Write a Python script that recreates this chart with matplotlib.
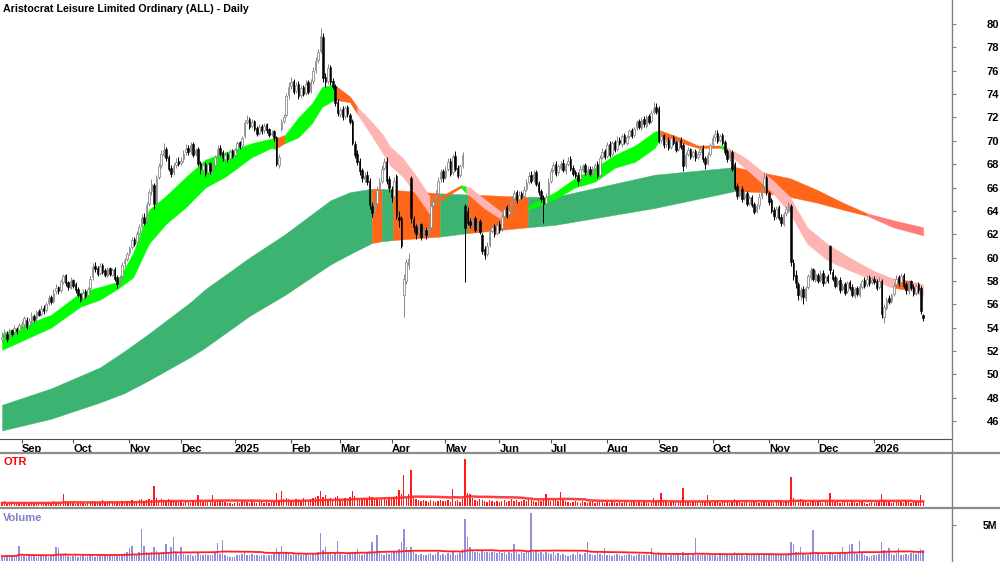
import numpy as np
import pandas as pd
import matplotlib
matplotlib.use("Agg")
import matplotlib.pyplot as plt
from matplotlib.lines import Line2D

plt.rcParams["font.family"] = ["Liberation Sans", "DejaVu Sans"]

TITLE = "Aristocrat Leisure Limited Ordinary (ALL) - Daily"
START = "2024-08-21"  # first trading day shown

# ---- daily OHLC (one row per month) ----
opens = [
    53.0, 53.3, 53.5, 53.1, 53.8, 53.6, 53.9, 53.8,
    54.1, 54.3, 54.7, 54.2, 54.5, 55.0, 54.8, 55.4, 55.2, 55.7, 55.5, 56.1, 56.6, 56.3, 57.1, 57.5, 57.2, 57.9, 58.5, 57.9, 57.4,
    58.1, 57.7, 57.3, 56.9, 56.5, 57.1, 56.8, 57.4, 58.3, 59.3, 59.1, 58.7, 59.4, 58.9, 58.4, 59.1, 58.5, 59.0, 58.3, 57.8, 58.4, 59.5, 59.9,
    60.4, 60.9, 61.6, 61.3, 62.1, 62.7, 63.5, 63.1, 64.6, 65.7, 66.2, 64.7, 66.9, 67.9, 68.8, 69.3, 68.6, 67.7, 67.3, 67.9, 68.3,
    68.1, 68.4, 69.0, 69.4, 69.1, 69.7, 68.9, 69.3, 68.1, 67.5, 68.0, 67.3, 68.1, 67.5, 67.9, 68.7, 69.4, 69.0, 68.4, 68.9, 68.5, 69.1,
    68.8, 69.3, 69.9, 69.6, 70.4, 71.6, 71.9, 71.3, 71.7, 71.1, 70.7, 71.3, 70.9, 71.4, 71.0, 70.6, 70.8, 70.3, 67.9, 71.0, 71.7, 72.2, 73.9,
    74.7, 75.1, 74.3, 74.9, 73.9, 74.6, 74.1, 75.0, 74.3, 75.1, 76.1, 76.9, 77.7, 78.9, 75.5, 75.1, 76.3, 75.1, 74.7, 73.3,
    72.3, 72.7, 72.1, 72.9, 72.2, 71.7, 69.7, 68.9, 68.3, 67.5, 66.7, 67.1, 66.6, 64.4, 63.9, 64.7, 65.9, 66.6, 67.7, 68.3, 66.7,
    65.9, 65.3, 67.0, 63.5, 63.4, 56.8, 58.0, 59.4, 66.8, 63.3, 62.7, 62.1, 62.9, 61.9, 62.4, 62.0, 62.6, 64.5, 64.9, 65.5, 66.7, 67.4,
    66.9, 67.6, 68.3, 67.3, 68.7, 67.7, 67.1, 67.9, 64.4, 64.0, 63.1, 62.9, 63.4, 62.5, 63.1, 61.9, 60.7, 60.3, 61.1, 62.3, 62.7, 62.1,
    62.9, 62.5, 63.6, 64.3, 63.7, 64.1, 65.1, 65.6, 65.0, 65.5, 65.3, 65.9, 66.5, 67.1, 66.7, 67.3, 66.4, 65.7, 65.1, 64.7, 65.3,
    66.6, 67.5, 68.0, 67.3, 67.7, 68.1, 67.4, 68.0, 68.4, 67.7, 67.3, 67.1, 66.7, 67.5, 67.9, 67.2, 67.6, 67.1, 67.7, 68.0, 67.1, 68.6, 69.1,
    68.7, 69.7, 68.9, 69.9, 69.3, 70.1, 69.7, 70.5, 69.8, 70.4, 70.9, 70.5, 71.1, 71.7, 71.1, 71.9, 71.3, 72.1, 71.7, 72.5, 72.9,
    72.8, 70.1, 70.5, 69.7, 70.1, 69.5, 70.3, 69.9, 69.3, 70.1, 69.6, 67.9, 68.9, 69.3, 68.7, 69.1, 68.6, 69.0, 69.4, 68.5, 68.1, 68.9,
    69.7, 70.3, 70.7, 70.1, 70.5, 69.9, 69.1, 68.5, 69.0, 68.0, 66.1, 65.4, 65.9, 65.1, 65.5, 64.7, 65.2, 64.6, 64.0, 64.5, 65.3, 66.1, 66.9,
    65.5, 64.9, 64.1, 63.5, 64.3, 63.5, 62.9, 63.8, 64.1, 64.4, 59.5, 58.5, 57.7, 56.7, 57.3, 56.5, 57.5, 58.3, 59.0, 58.1,
    58.5, 58.1, 58.7, 57.9, 58.4, 61.0, 58.8, 58.3, 57.7, 58.1, 57.3, 57.7, 57.1, 57.9, 57.5, 56.7, 57.4, 56.8, 57.5, 58.1, 57.7, 58.3, 57.9,
    58.2, 58.0, 57.5, 58.0, 54.9, 55.7, 56.5, 56.3, 56.9, 57.7, 58.3, 57.9, 58.5, 57.7, 57.1, 58.0, 57.5, 57.0, 57.7, 57.4, 55.1,
]
highs = [
    53.6, 53.9, 53.7, 54.0, 53.9, 54.2, 54.1, 54.4,
    54.6, 55.0, 54.9, 54.8, 55.3, 55.2, 55.5, 55.6, 55.9, 55.9, 56.2, 56.8, 56.8, 57.3, 57.7, 57.6, 58.2, 58.6, 58.6, 58.0, 58.3,
    58.2, 57.9, 57.5, 57.0, 57.3, 57.3, 57.5, 58.4, 59.5, 59.6, 59.3, 59.5, 59.5, 59.1, 59.2, 59.2, 59.1, 59.2, 58.5, 58.5, 59.6, 60.0, 60.5,
    61.0, 61.8, 61.8, 62.3, 62.9, 63.7, 63.8, 64.8, 65.9, 66.7, 66.4, 67.1, 68.1, 69.2, 69.8, 69.5, 68.8, 67.9, 68.1, 68.5, 68.6,
    68.6, 69.2, 69.7, 69.6, 69.9, 69.9, 69.4, 69.5, 68.3, 68.1, 68.2, 68.3, 68.2, 68.0, 68.8, 69.6, 69.6, 69.2, 69.0, 69.0, 69.3, 69.3,
    69.4, 70.0, 70.0, 70.4, 71.8, 72.2, 72.0, 71.9, 71.8, 71.3, 71.4, 71.4, 71.5, 71.5, 71.1, 70.9, 70.9, 70.4, 68.9, 71.9, 72.3, 74.1, 75.0,
    75.5, 75.3, 75.0, 75.1, 74.8, 74.8, 75.2, 75.2, 75.3, 76.3, 77.2, 77.9, 79.7, 79.2, 75.8, 76.6, 76.5, 75.4, 74.9, 73.6,
    72.9, 73.0, 73.0, 73.1, 72.4, 71.9, 70.0, 69.2, 68.5, 67.7, 67.3, 67.4, 66.8, 64.8, 64.9, 66.1, 66.8, 67.9, 68.5, 68.6, 67.0,
    66.1, 66.9, 67.2, 64.0, 63.6, 58.6, 59.9, 60.4, 67.0, 63.6, 62.9, 63.1, 63.0, 62.6, 62.6, 62.8, 64.7, 65.1, 65.8, 66.9, 67.6, 67.6,
    67.8, 68.5, 68.5, 68.9, 69.1, 67.9, 68.0, 69.0, 64.6, 64.3, 63.4, 63.6, 63.6, 63.3, 63.3, 62.1, 61.0, 61.3, 62.5, 62.9, 62.9, 63.1,
    63.1, 63.8, 64.5, 64.5, 64.3, 65.3, 65.8, 65.8, 65.7, 65.7, 66.1, 66.7, 67.3, 67.4, 67.5, 67.5, 66.6, 65.9, 65.4, 65.5, 66.8,
    67.7, 68.2, 68.3, 68.0, 68.3, 68.4, 68.1, 68.6, 68.7, 67.9, 67.5, 67.3, 67.9, 68.0, 68.1, 67.8, 67.8, 67.8, 68.1, 68.3, 68.8, 69.4, 69.3,
    69.9, 70.0, 70.0, 70.1, 70.4, 70.3, 70.6, 70.7, 70.5, 71.0, 71.1, 71.2, 71.8, 71.9, 72.0, 72.1, 72.2, 72.3, 72.6, 73.3, 73.2,
    73.0, 70.7, 70.6, 70.2, 70.3, 70.4, 70.5, 70.0, 70.2, 70.3, 69.8, 69.0, 69.5, 69.4, 69.2, 69.3, 69.1, 69.5, 69.6, 68.7, 69.0, 69.8,
    70.5, 70.9, 70.9, 70.6, 70.7, 70.1, 69.3, 69.2, 69.2, 68.2, 66.4, 66.1, 66.1, 65.7, 65.7, 65.4, 65.4, 64.8, 64.6, 65.5, 66.3, 67.3, 67.1,
    65.7, 65.1, 64.3, 64.4, 64.5, 63.7, 63.9, 64.4, 64.8, 64.6, 59.9, 58.9, 57.9, 57.5, 57.6, 57.6, 58.6, 59.2, 59.1, 58.9,
    58.7, 58.9, 58.9, 58.5, 58.6, 61.1, 59.0, 58.5, 58.3, 58.3, 57.8, 57.9, 58.0, 58.1, 57.7, 57.5, 57.6, 57.8, 58.2, 58.3, 58.5, 58.5, 58.3,
    58.4, 58.2, 58.3, 58.2, 56.0, 56.6, 56.8, 57.0, 57.8, 58.5, 58.5, 58.7, 58.7, 57.9, 58.1, 58.1, 57.7, 57.8, 57.9, 57.6, 55.2,
]
lows = [
    52.8, 53.1, 52.8, 53.0, 53.3, 53.4, 53.5, 53.6,
    53.9, 54.1, 53.9, 54.0, 54.3, 54.5, 54.6, 55.0, 55.0, 55.2, 55.3, 55.9, 56.0, 56.1, 56.9, 56.9, 57.0, 57.7, 57.6, 57.2, 57.3,
    57.4, 57.0, 56.6, 56.2, 56.3, 56.5, 56.6, 57.2, 58.1, 58.8, 58.4, 58.5, 58.6, 58.3, 58.3, 58.4, 58.4, 58.0, 57.4, 57.6, 58.2, 59.2, 59.7,
    60.2, 60.7, 61.0, 61.1, 61.9, 62.5, 62.8, 62.9, 64.4, 65.4, 64.2, 64.5, 66.7, 67.7, 68.6, 68.3, 67.4, 66.9, 67.1, 67.7, 67.8,
    67.9, 68.2, 68.8, 68.8, 68.9, 68.6, 68.7, 67.8, 67.2, 67.3, 67.0, 67.1, 67.2, 67.3, 67.7, 68.5, 68.7, 68.3, 68.2, 68.2, 68.3, 68.5,
    68.6, 69.1, 69.3, 69.4, 70.2, 71.4, 71.0, 71.1, 70.8, 70.4, 70.5, 70.6, 70.7, 70.7, 70.3, 70.4, 70.0, 67.8, 67.7, 70.8, 71.5, 72.0, 73.6,
    74.4, 74.0, 74.1, 73.6, 73.7, 73.8, 73.9, 74.0, 74.1, 74.9, 75.8, 76.7, 77.5, 75.0, 74.6, 74.9, 74.8, 74.4, 73.0, 72.1,
    72.0, 71.8, 71.9, 72.0, 71.4, 69.6, 68.5, 67.9, 67.1, 66.5, 66.5, 66.2, 64.2, 63.5, 63.6, 64.5, 65.7, 66.4, 67.5, 66.3, 65.6,
    64.8, 65.0, 63.3, 62.6, 60.8, 54.9, 57.7, 59.0, 63.0, 62.2, 61.6, 61.9, 61.5, 61.7, 61.6, 61.8, 62.4, 64.2, 64.6, 65.3, 66.5, 66.5,
    66.7, 67.4, 67.0, 67.1, 67.4, 66.8, 66.9, 67.7, 57.9, 62.8, 62.5, 62.6, 62.2, 62.3, 62.0, 60.3, 59.9, 60.1, 60.9, 62.1, 61.8, 61.9,
    62.1, 62.3, 63.4, 63.4, 63.4, 63.9, 64.9, 64.7, 64.8, 65.0, 65.1, 65.7, 66.3, 66.4, 66.5, 66.1, 65.4, 64.8, 63.0, 64.5, 65.1,
    66.4, 67.3, 67.0, 67.1, 67.5, 67.3, 67.2, 67.8, 67.4, 67.0, 66.8, 66.2, 66.5, 67.3, 67.1, 67.0, 67.0, 67.0, 67.5, 66.8, 66.9, 68.4, 68.4,
    68.5, 68.6, 68.7, 69.0, 69.1, 69.6, 69.5, 69.7, 69.6, 70.2, 70.2, 70.3, 70.9, 71.0, 70.9, 71.2, 71.1, 71.4, 71.5, 72.3, 72.3,
    69.8, 69.8, 69.4, 69.5, 69.2, 69.3, 69.6, 69.0, 69.1, 69.3, 67.4, 67.7, 68.7, 68.4, 68.5, 68.3, 68.4, 68.8, 68.2, 67.6, 67.9, 68.7,
    69.5, 70.0, 69.8, 69.9, 69.6, 68.8, 68.2, 68.3, 67.4, 65.8, 65.0, 65.2, 64.8, 64.9, 64.4, 64.5, 64.3, 63.7, 63.8, 64.2, 65.0, 65.9, 65.4,
    64.5, 63.8, 63.2, 63.3, 63.2, 62.7, 62.7, 63.6, 63.9, 59.3, 58.1, 57.4, 56.4, 56.4, 56.0, 56.3, 57.3, 58.1, 58.0, 57.9,
    57.8, 57.9, 57.6, 57.7, 57.8, 58.6, 58.0, 57.4, 57.5, 57.0, 57.1, 56.8, 57.0, 57.2, 56.6, 56.5, 56.7, 56.6, 57.3, 57.4, 57.5, 57.6, 57.7,
    57.7, 57.2, 57.3, 54.8, 54.4, 55.5, 56.0, 56.1, 56.7, 57.5, 57.6, 57.7, 57.4, 56.9, 56.9, 57.2, 56.7, 56.8, 57.0, 55.2, 54.6,
]
closes = [
    53.2, 53.6, 53.0, 53.8, 53.5, 54.0, 53.7, 54.2,
    54.3, 54.8, 54.1, 54.6, 55.0, 54.7, 55.3, 55.1, 55.6, 55.4, 56.0, 56.5, 56.2, 57.0, 57.4, 57.1, 58.0, 58.4, 57.8, 57.5, 58.0,
    57.6, 57.2, 56.8, 56.4, 57.0, 56.7, 57.3, 58.2, 59.2, 59.0, 58.6, 59.3, 58.8, 58.5, 59.0, 58.6, 58.9, 58.2, 57.7, 58.3, 59.4, 59.8, 60.3,
    60.8, 61.5, 61.2, 62.0, 62.6, 63.4, 63.0, 64.5, 65.6, 66.3, 64.6, 66.8, 67.8, 68.9, 69.2, 68.5, 67.6, 67.2, 67.8, 68.2, 68.0,
    68.3, 68.9, 69.3, 69.0, 69.6, 68.8, 69.2, 68.0, 67.6, 67.9, 67.2, 68.0, 67.4, 67.8, 68.6, 69.3, 68.9, 68.5, 68.8, 68.4, 69.0, 68.7,
    69.2, 69.8, 69.5, 70.2, 71.5, 71.8, 71.2, 71.6, 71.0, 70.6, 71.2, 70.8, 71.3, 70.9, 70.5, 70.7, 70.2, 68.0, 68.6, 71.6, 72.0, 73.8, 74.6,
    75.0, 74.2, 74.8, 73.8, 74.5, 74.0, 74.9, 74.2, 75.0, 76.0, 76.8, 77.6, 79.0, 75.4, 75.0, 76.2, 75.0, 74.6, 73.2, 72.4,
    72.6, 72.0, 72.8, 72.3, 71.6, 69.8, 68.8, 68.2, 67.4, 66.8, 67.0, 66.5, 64.5, 63.8, 64.6, 65.8, 66.5, 67.6, 68.2, 66.6, 66.0,
    65.2, 66.6, 63.6, 63.2, 61.0, 58.2, 59.6, 59.9, 63.4, 62.6, 62.0, 62.8, 61.8, 62.3, 61.9, 62.5, 64.4, 64.8, 65.4, 66.6, 67.3, 66.8,
    67.5, 68.2, 67.2, 68.6, 67.6, 67.0, 67.8, 68.8, 62.5, 63.0, 62.8, 63.3, 62.4, 63.0, 62.2, 60.6, 60.2, 61.0, 62.2, 62.6, 62.0, 62.8,
    62.4, 63.5, 64.2, 63.6, 64.0, 65.0, 65.5, 64.9, 65.4, 65.2, 65.8, 66.4, 67.0, 66.6, 67.2, 66.3, 65.6, 65.0, 64.6, 65.2, 66.5,
    67.4, 67.9, 67.2, 67.8, 68.0, 67.5, 67.9, 68.3, 67.6, 67.2, 67.0, 66.6, 67.6, 67.8, 67.3, 67.5, 67.2, 67.6, 67.9, 67.0, 68.5, 69.0, 68.6,
    69.6, 68.8, 69.8, 69.2, 70.0, 69.8, 70.4, 69.9, 70.3, 70.8, 70.4, 71.0, 71.6, 71.2, 71.8, 71.4, 72.0, 71.6, 72.4, 72.8, 72.5,
    70.0, 70.4, 69.6, 70.0, 69.4, 70.2, 69.8, 69.2, 70.0, 69.5, 67.8, 68.8, 69.2, 68.6, 69.0, 68.5, 68.9, 69.3, 68.4, 68.0, 68.8, 69.6,
    70.2, 70.6, 70.0, 70.4, 69.8, 69.0, 68.4, 68.9, 67.6, 66.0, 65.3, 65.8, 65.0, 65.4, 64.6, 65.1, 64.5, 63.9, 64.4, 65.2, 66.0, 66.8, 65.6,
    64.8, 64.0, 63.6, 64.2, 63.4, 63.0, 63.7, 64.2, 64.6, 59.6, 58.4, 57.8, 56.8, 57.2, 56.6, 57.4, 58.4, 58.9, 58.2, 58.6,
    58.0, 58.6, 57.8, 58.3, 58.0, 58.9, 58.2, 57.6, 58.0, 57.2, 57.6, 57.0, 57.8, 57.4, 56.8, 57.3, 56.9, 57.6, 58.0, 57.6, 58.2, 57.8, 58.1,
    57.9, 57.4, 58.0, 55.2, 55.8, 56.4, 56.2, 56.8, 57.6, 58.2, 57.8, 58.4, 57.6, 57.2, 57.9, 57.4, 56.9, 57.6, 57.2, 55.4, 54.8,
]

# daily volume, millions of shares
volume_m = [
    0.7, 0.6, 0.8, 0.7, 0.6, 0.9, 0.7, 2.1,
    0.8, 0.7, 0.6, 0.9, 0.7, 0.8, 0.6, 0.7, 0.9, 0.8, 0.7, 0.6, 0.8, 1.0, 2.0, 1.8, 0.9, 0.8, 1.1, 0.7, 0.6,
    0.7, 0.8, 0.6, 0.7, 0.9, 0.6, 0.7, 0.8, 0.7, 0.6, 0.8, 0.7, 0.9, 0.8, 0.7, 0.9, 0.8, 1.0, 0.7, 0.8, 0.9, 1.1, 1.2,
    1.8, 2.1, 0.9, 1.0, 1.2, 4.5, 2.1, 1.3, 1.1, 1.2, 1.9, 1.4, 1.1, 1.3, 1.2, 2.4, 1.0, 2.0, 3.4, 1.1, 0.9,
    1.9, 1.0, 0.9, 0.8, 1.0, 0.7, 0.8, 1.1, 0.9, 0.8, 1.0, 0.9, 0.8, 0.9, 1.2, 2.5, 1.0, 2.9, 0.8, 0.7, 0.6, 0.5,
    0.6, 0.8, 0.9, 1.0, 1.2, 0.9, 0.8, 1.0, 0.9, 0.8, 0.7, 0.9, 0.8, 0.7, 0.8, 0.9, 1.0, 1.8, 1.2, 2.1, 1.3, 1.1, 1.0,
    0.9, 1.0, 0.8, 1.1, 0.9, 0.8, 1.0, 0.9, 0.8, 1.0, 1.1, 1.2, 3.9, 1.5, 1.9, 1.0, 1.1, 0.9, 1.2, 2.8,
    1.0, 0.9, 0.8, 1.0, 1.1, 1.3, 1.2, 1.6, 1.0, 0.9, 1.0, 1.1, 1.4, 2.6, 1.2, 3.6, 1.1, 1.0, 0.9, 1.1, 1.0,
    1.1, 1.2, 1.4, 1.6, 2.6, 4.5, 2.0, 1.5, 2.0, 1.3, 1.0, 0.9, 1.0, 0.8, 0.9, 1.0, 1.1, 0.9, 1.0, 1.2, 0.9, 1.0,
    0.9, 1.1, 1.0, 1.2, 0.9, 1.0, 1.1, 1.6, 5.8, 3.4, 2.0, 1.5, 1.3, 1.2, 1.1, 1.4, 1.3, 1.2, 1.1, 1.3, 1.2, 1.1,
    1.2, 1.1, 1.3, 1.0, 1.2, 1.1, 2.4, 1.2, 1.0, 1.3, 1.1, 1.2, 1.4, 6.7, 1.3, 1.5, 1.1, 1.2, 1.0, 1.3, 1.1,
    1.0, 1.2, 0.8, 1.1, 0.9, 1.0, 0.8, 0.7, 0.9, 1.0, 0.8, 1.2, 1.0, 0.9, 1.1, 2.6, 1.0, 0.8, 0.9, 1.1, 1.0, 0.9, 1.8,
    0.9, 0.8, 0.7, 0.8, 1.0, 0.9, 0.7, 0.8, 0.9, 1.0, 0.8, 0.7, 0.9, 1.0, 0.8, 0.9, 1.0, 0.8, 1.8, 1.0, 0.9,
    1.3, 1.0, 0.8, 0.9, 0.7, 0.8, 1.0, 0.9, 0.8, 0.7, 1.2, 0.9, 0.8, 0.7, 0.9, 3.2, 0.9, 0.8, 1.0, 0.9, 0.8, 0.9,
    0.8, 0.9, 0.7, 0.8, 0.9, 1.0, 0.8, 0.9, 1.0, 1.3, 1.0, 0.8, 0.9, 0.7, 0.8, 0.9, 0.8, 1.0, 0.8, 0.9, 0.7, 1.0, 0.9,
    0.9, 0.8, 0.9, 1.0, 0.8, 0.9, 1.0, 0.8, 1.1, 2.7, 2.4, 1.3, 1.2, 2.0, 1.1, 1.0, 0.9, 1.2, 4.3, 1.0,
    1.2, 0.9, 1.0, 0.8, 0.9, 1.3, 1.0, 0.9, 1.1, 1.0, 1.9, 1.2, 1.0, 2.2, 2.4, 1.1, 1.0, 2.8, 1.2, 0.9, 0.7, 0.6, 0.7,
    0.8, 0.9, 1.0, 2.7, 1.5, 1.2, 1.8, 1.0, 0.9, 1.1, 1.8, 0.9, 0.8, 1.0, 0.9, 1.1, 1.2, 1.0, 1.3, 1.7, 1.5,
]

# OTR indicator (relative units)
otr = [
    3, 4, 2, 3, 4, 3, 2, 3,
    3, 4, 3, 2, 4, 3, 3, 2, 4, 3, 3, 4, 3, 5, 4, 3, 4, 12, 5, 4, 3,
    3, 2, 3, 4, 3, 2, 3, 4, 5, 4, 3, 3, 6, 4, 3, 5, 4, 3, 4, 3, 5, 4, 5,
    5, 6, 4, 5, 6, 7, 5, 6, 7, 6, 20, 8, 6, 7, 6, 5, 7, 6, 5, 4, 4,
    4, 3, 5, 4, 3, 6, 4, 11, 5, 4, 6, 4, 5, 11, 4, 5, 6, 5, 4, 3, 3, 2,
    3, 4, 3, 5, 6, 4, 3, 5, 4, 3, 4, 5, 3, 4, 3, 4, 5, 13, 6, 15, 7, 8, 7,
    6, 5, 7, 6, 5, 8, 6, 5, 7, 8, 9, 10, 15, 9, 11, 7, 8, 6, 9, 10,
    7, 6, 8, 7, 9, 15, 10, 8, 7, 6, 8, 7, 10, 9, 8, 7, 6, 7, 8, 6, 7,
    8, 9, 10, 16, 12, 31, 8, 12, 36, 9, 7, 6, 5, 6, 5, 4, 6, 5, 4, 5, 6, 5,
    5, 6, 4, 17, 5, 6, 4, 7, 47, 13, 12, 8, 6, 5, 7, 6, 5, 4, 6, 5, 4, 5,
    4, 5, 6, 4, 5, 7, 5, 6, 4, 5, 6, 5, 7, 6, 5, 4, 6, 5, 7, 12, 6,
    5, 6, 7, 5, 14, 6, 5, 4, 3, 4, 5, 4, 3, 5, 4, 3, 4, 5, 3, 4, 5, 4, 3,
    4, 3, 5, 4, 3, 4, 3, 5, 4, 3, 4, 5, 3, 4, 3, 5, 4, 3, 4, 8, 5,
    6, 13, 5, 4, 3, 4, 5, 3, 4, 5, 18, 5, 4, 3, 4, 5, 4, 3, 5, 4, 11, 4,
    3, 4, 5, 3, 4, 5, 4, 3, 5, 7, 5, 4, 3, 4, 5, 3, 4, 5, 4, 3, 5, 6, 4,
    4, 5, 3, 4, 5, 4, 3, 5, 4, 29, 8, 6, 5, 7, 4, 5, 3, 4, 6, 4,
    5, 4, 3, 5, 4, 13, 6, 4, 5, 3, 4, 5, 4, 3, 5, 4, 3, 4, 5, 3, 2, 3, 4,
    3, 4, 5, 12, 6, 4, 5, 3, 4, 5, 6, 4, 3, 5, 4, 3, 4, 5, 4, 11, 5,
]

# short-term trend ribbon at knots (bar number)
short_idx = [0, 20, 32, 40, 47, 53.5, 60, 67, 75, 83, 91, 102, 110, 111.4, 115.5, 121, 126.5,
             130.6, 134.7, 136.3, 142, 145, 151, 155.5, 158.4, 163.7, 169.4, 174.7, 178.8,
             187.3, 189.4, 191, 197, 204.5, 209, 214.7, 225.7, 233.9, 242, 250.2, 258.4,
             266.5, 268.6, 277.6, 284, 293, 295.5, 298, 303, 309, 314.7, 321.6, 328.6,
             336.7, 346, 355.5, 362.4, 364.5, 370.6, 376]
short_top = [53.5, 55.1, 57.0, 57.5, 57.9, 60.4, 64.1, 65.3, 66.9, 68.4, 69.0, 69.8, 70.2, 70.2, 70.5, 72.0, 73.2,
             74.6, 74.8, 74.7, 73.8, 72.9, 71.6, 70.5, 69.5, 68.5, 66.9, 65.2, 65.2,
             66.2, 66.1, 66.0, 65.0, 63.8, 63.8, 64.4, 65.6, 66.8, 67.7, 68.8, 69.6,
             70.8, 70.9, 70.2, 69.6, 69.6, 69.5, 69.2, 68.6, 67.6, 66.6, 65.2, 62.6,
             61.2, 60.0, 58.9, 58.3, 58.2, 58.0, 57.7]
short_bot = [52.1, 54.0, 55.8, 56.4, 57.3, 58.3, 61.2, 62.9, 64.3, 66.0, 66.9, 68.6, 69.4, 69.3, 69.8, 70.3, 71.5,
             72.9, 73.4, 73.5, 73.3, 72.3, 70.4, 68.9, 67.9, 66.9, 65.3, 63.7, 64.9,
             66.0, 65.5, 65.3, 64.2, 63.2, 63.4, 64.1, 65.0, 66.0, 66.5, 67.7, 68.2,
             69.4, 70.2, 69.8, 69.4, 69.4, 69.2, 68.6, 67.7, 66.6, 65.5, 63.8, 61.2,
             59.8, 58.9, 58.1, 57.5, 57.4, 57.2, 56.7]
short_state = ["up"] * 13 + ["mix", "up", "up", "up", "up", "up", "mix", "mix",
               "down", "down", "down", "down", "down", "down", "mix", "mix",
               "up", "down", "down", "down", "mix", "mix", "up", "up", "up", "up", "up", "up",
               "up", "mix", "mix", "mix", "up", "down", "down", "down", "down", "down", "down", "down",
               "down", "down", "down", "down", "mix", "down", "down"]

# long-term trend ribbon
long_idx = [0, 20, 40, 50, 60, 77, 83, 101, 115.5, 134, 142, 151, 155.1, 159.6, 178.8,
            190.2, 214.7, 225.7, 266.5, 299.2, 310, 321.6, 332.7, 343.3, 353, 363.7, 376]
long_top = [47.4, 48.8, 50.6, 52.0, 53.5, 56.2, 57.3, 60.0, 62.0, 64.9, 65.6, 65.9, 65.9, 65.8, 65.5,
            65.4, 65.2, 65.2, 67.1, 67.75, 67.3, 66.8, 65.8, 64.7, 63.8, 63.2, 62.6]
long_bot = [45.2, 46.2, 47.6, 48.4, 49.5, 51.5, 52.3, 55.0, 56.8, 59.4, 60.3, 61.25, 61.4, 61.5, 61.8,
            62.1, 62.6, 62.8, 64.25, 65.7, 65.6, 65.2, 64.7, 64.1, 63.6, 62.6, 61.9]
long_state = ["up"] * 11 + ["mix", "up", "mix", "up", "mix", "up", "up", "up",
              "mix", "mix", "mix", "mix", "mix", "down", "down", "down"]

SHORT_COLORS = {"up": "#00ff00", "mix": "#ff661a", "down": "#ffb4b4"}
LONG_COLORS = {"up": "#3cb371", "mix": "#ff661a", "down": "#ff7c7c"}

W, H = 1000, 562
PANEL_RIGHT = 952
X_PER_BAR = 2.45
LABEL_SIZE = 8


def fig_rect(x0, y0, x1, y1):
    """pixel box (top-left origin) -> add_axes rect"""
    return [x0 / W, 1 - y1 / H, (x1 - x0) / W, (y1 - y0) / H]


def draw_band(ax, idx, top, bot, state, colors, z):
    idx, top, bot = np.asarray(idx, float), np.asarray(top), np.asarray(bot)
    start = 0
    for k in range(1, len(idx)):
        if k == len(idx) - 1 or state[k] != state[start]:
            sl = slice(start, k + 1)
            c = colors[state[start]]
            ax.fill_between(idx[sl], bot[sl], top[sl], color=c, lw=0.3, ec=c, zorder=z)
            start = k


def draw_candles(ax, o, h, l, c):
    x = np.arange(len(c))
    up = c >= o
    lo = np.minimum(o, c)
    body = np.maximum(np.abs(c - o), 0.06)
    ax.vlines(x[up], l[up], h[up], color="#8a8a8a", lw=0.7, zorder=3)
    ax.vlines(x[~up], l[~up], h[~up], color="black", lw=0.7, zorder=3)
    ax.bar(x[up], body[up], bottom=lo[up], width=0.62, color="white",
           edgecolor="#8a8a8a", lw=0.6, zorder=4)
    ax.bar(x[~up], body[~up], bottom=lo[~up], width=0.62, color="black",
           edgecolor="black", lw=0.4, zorder=4)


def month_ticks(dates):
    pos, lab = [], []
    for i in range(1, len(dates)):
        if dates[i].month != dates[i - 1].month:
            pos.append(i)
            lab.append(str(dates[i].year) if dates[i].month == 1 else dates[i].strftime("%b"))
    return pos, lab


def main():
    n = len(closes)
    for name, arr in [("opens", opens), ("highs", highs), ("lows", lows),
                      ("volume_m", volume_m), ("otr", otr)]:
        assert len(arr) == n, f"{name}: {len(arr)} != {n}"
    o, h, l, c = (np.array(a, float) for a in (opens, highs, lows, closes))
    dates = pd.bdate_range(START, periods=n)

    fig = plt.figure(figsize=(W / 100, H / 100), dpi=100)
    xlim = (-2 / X_PER_BAR, (PANEL_RIGHT - 2) / X_PER_BAR)

    # --- price panel ---
    ax = fig.add_axes(fig_rect(0, 0, PANEL_RIGHT, 438.5))
    draw_band(ax, long_idx, long_top, long_bot, long_state, LONG_COLORS, 1)
    draw_band(ax, short_idx, short_top, short_bot, short_state, SHORT_COLORS, 2)
    draw_candles(ax, o, np.maximum(h, np.maximum(o, c)), np.minimum(l, np.minimum(o, c)), c)
    ax.set_xlim(*xlim)
    ax.set_ylim(80 - (438.5 - 24) / 11.68, 80 + 24 / 11.68)
    for s in ("top", "left"):
        ax.spines[s].set_visible(False)
    ax.spines["bottom"].set_color("#505050")
    ax.spines["right"].set_color("#808080")
    ax.yaxis.tick_right()
    ax.set_yticks(np.arange(46, 81, 2))
    ax.tick_params(axis="y", length=3, color="#808080", pad=22, labelsize=LABEL_SIZE)
    for t in ax.get_yticklabels():
        t.set_fontweight("bold")
    pos, lab = month_ticks(dates)
    ax.set_xticks(pos)
    ax.set_xticklabels(lab, ha="left", fontsize=LABEL_SIZE, fontweight="bold")
    ax.tick_params(axis="x", length=3, color="#505050", pad=0.8)
    ax.text(3 / PANEL_RIGHT, 1 - 8.5 / 438.5, TITLE, transform=ax.transAxes,
            ha="left", va="center", fontsize=7.7, fontweight="bold")

    x = np.arange(n)

    # --- OTR panel ---
    ax2 = fig.add_axes(fig_rect(0, 453.5, PANEL_RIGHT, 506))
    ax2.bar(x, otr, width=0.55, color="#ff1a1a", lw=0)
    otr_avg = pd.Series(otr, dtype=float).rolling(50, min_periods=1).mean()
    ax2.plot(x, otr_avg, color="#ff2a2a", lw=1.8, alpha=0.9)
    ax2.set_xlim(*xlim)
    ax2.set_ylim(0, 52.5)
    ax2.set_xticks([])
    ax2.set_yticks([])
    for s in ("top", "left", "bottom"):
        ax2.spines[s].set_visible(False)
    ax2.spines["right"].set_color("#808080")
    ax2.text(3 / PANEL_RIGHT, 0.83, "OTR", transform=ax2.transAxes, color="#ff0000",
             ha="left", va="center", fontsize=LABEL_SIZE, fontweight="bold")

    # --- volume panel ---
    ax3 = fig.add_axes(fig_rect(0, 509.5, PANEL_RIGHT, 561))
    ax3.bar(x, volume_m, width=0.58, color="#8f8fdc", lw=0)
    vol_avg = pd.Series(volume_m).rolling(50, min_periods=1).mean()
    ax3.plot(x, vol_avg, color="#ff2020", lw=1.3)
    ax3.set_xlim(*xlim)
    ax3.set_ylim(0, 7.15)
    ax3.set_xticks([])
    for s in ("top", "left", "bottom"):
        ax3.spines[s].set_visible(False)
    ax3.spines["right"].set_color("#808080")
    ax3.yaxis.tick_right()
    ax3.set_yticks([5])
    ax3.set_yticklabels(["5M"], fontsize=7.5, fontweight="bold")
    ax3.tick_params(axis="y", length=3, color="#808080", pad=19)
    ax3.text(3 / PANEL_RIGHT, 0.84, "Volume", transform=ax3.transAxes, color="#8080c8",
             ha="left", va="center", fontsize=LABEL_SIZE, fontweight="bold")

    # panel separators
    for y in (452.5, 507.5):
        fig.add_artist(Line2D([0, 1], [1 - y / H] * 2, transform=fig.transFigure,
                              color="#8c8c8c", lw=1.6))
    fig.add_artist(Line2D([PANEL_RIGHT / W] * 2, [0, 1], transform=fig.transFigure,
                          color="#808080", lw=0.9))

    fig.savefig("out.png", dpi=100)


if __name__ == "__main__":
    main()
